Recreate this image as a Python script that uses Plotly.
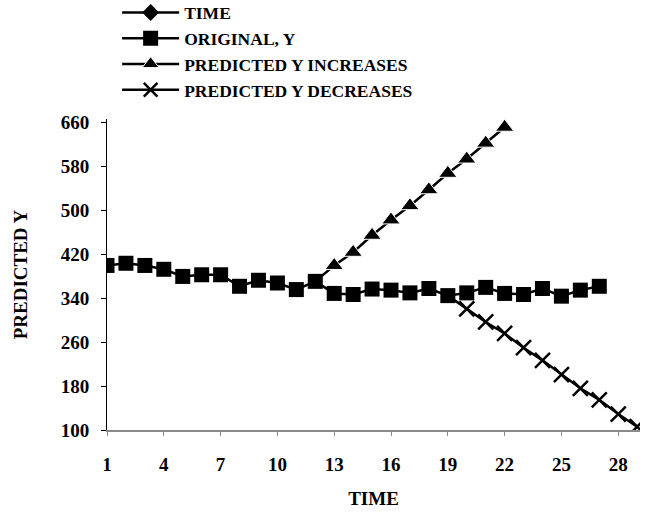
import plotly.graph_objects as go

# ---- data ----
time = list(range(1, 30))

orig_x = list(range(1, 28))
original_y = [400, 404, 400, 393, 380, 383, 383, 362, 373, 368, 356, 371, 349,
              347, 357, 355, 350, 358, 345, 350, 360, 349, 347, 358, 344, 355, 362]

inc_x = list(range(12, 23))
pred_increase = [371, 400, 424, 455, 483, 509, 538, 568, 594, 623, 652]

dec_x = list(range(19, 30))
pred_decrease = [345, 321, 297, 276, 250, 227, 201, 176, 155, 129, 106]

x_ticks = [1, 4, 7, 10, 13, 16, 19, 22, 25, 28]
y_ticks = [100, 180, 260, 340, 420, 500, 580, 660]

FONT = "Liberation Serif, Times New Roman, serif"
BLACK = "#000000"

fig = go.Figure()

# TIME series: values 1..29 lie below the axis minimum, so only the legend shows
fig.add_trace(go.Scatter(
    x=time, y=time, name="TIME", mode="lines+markers",
    line=dict(color=BLACK, width=2.5),
    marker=dict(symbol="diamond", size=13, color=BLACK, opacity=1),
))
fig.add_trace(go.Scatter(
    x=orig_x, y=original_y, name="ORIGINAL, Y", mode="lines+markers",
    line=dict(color=BLACK, width=2.5),
    marker=dict(symbol="square", size=15, color=BLACK, opacity=1),
))
fig.add_trace(go.Scatter(
    x=inc_x, y=pred_increase, name="PREDICTED Y INCREASES", mode="lines+markers",
    line=dict(color=BLACK, width=2.5),
    marker=dict(symbol="triangle-up", size=[0] + [16] * (len(inc_x) - 1),
                color=BLACK, opacity=1),
))
fig.add_trace(go.Scatter(
    x=dec_x, y=pred_decrease, name="PREDICTED Y DECREASES", mode="lines+markers",
    line=dict(color=BLACK, width=2.5),
    marker=dict(symbol="x-thin", size=[0] + [15] * (len(dec_x) - 1), opacity=1,
                color=BLACK, line=dict(color=BLACK, width=2.5)),
))

fig.update_layout(
    width=649, height=512,
    margin=dict(l=107, r=9, t=119, b=82, autoexpand=False),
    paper_bgcolor="white", plot_bgcolor="white",
    font=dict(family=FONT, color=BLACK, size=19, weight="bold"),
    showlegend=True,
    legend=dict(
        x=0.019, y=1.40, xanchor="left", yanchor="top",
        font=dict(family=FONT, size=17.5, color=BLACK, weight="bold"),
        itemwidth=57, tracegroupgap=0, bgcolor="rgba(0,0,0,0)",
        borderwidth=0,
    ),
    xaxis=dict(
        range=[1, 29.15], tickmode="array", tickvals=x_ticks,
        ticktext=[str(v) for v in x_ticks],
        showgrid=False, zeroline=False,
        showline=True, linecolor="#8a8a8a", linewidth=1.5,
        ticks="outside", ticklen=4, tickcolor="#8a8a8a", tickwidth=1,
        ticklabelstandoff=12,
        tickfont=dict(family=FONT, size=19, color=BLACK, weight="bold"),
        title=dict(text="TIME", standoff=18,
                   font=dict(family=FONT, size=19, color=BLACK, weight="bold")),
    ),
    yaxis=dict(
        range=[100, 667], tickmode="array", tickvals=y_ticks,
        showgrid=False, zeroline=False,
        showline=True, linecolor=BLACK, linewidth=1,
        ticks="outside", ticklen=5, tickcolor=BLACK, tickwidth=1,
        ticklabelstandoff=8,
        tickfont=dict(family=FONT, size=19, color=BLACK, weight="bold"),
        title=dict(text="PREDICTED Y", standoff=28,
                   font=dict(family=FONT, size=19, color=BLACK, weight="bold")),
    ),
)

fig.write_html("out.html")
